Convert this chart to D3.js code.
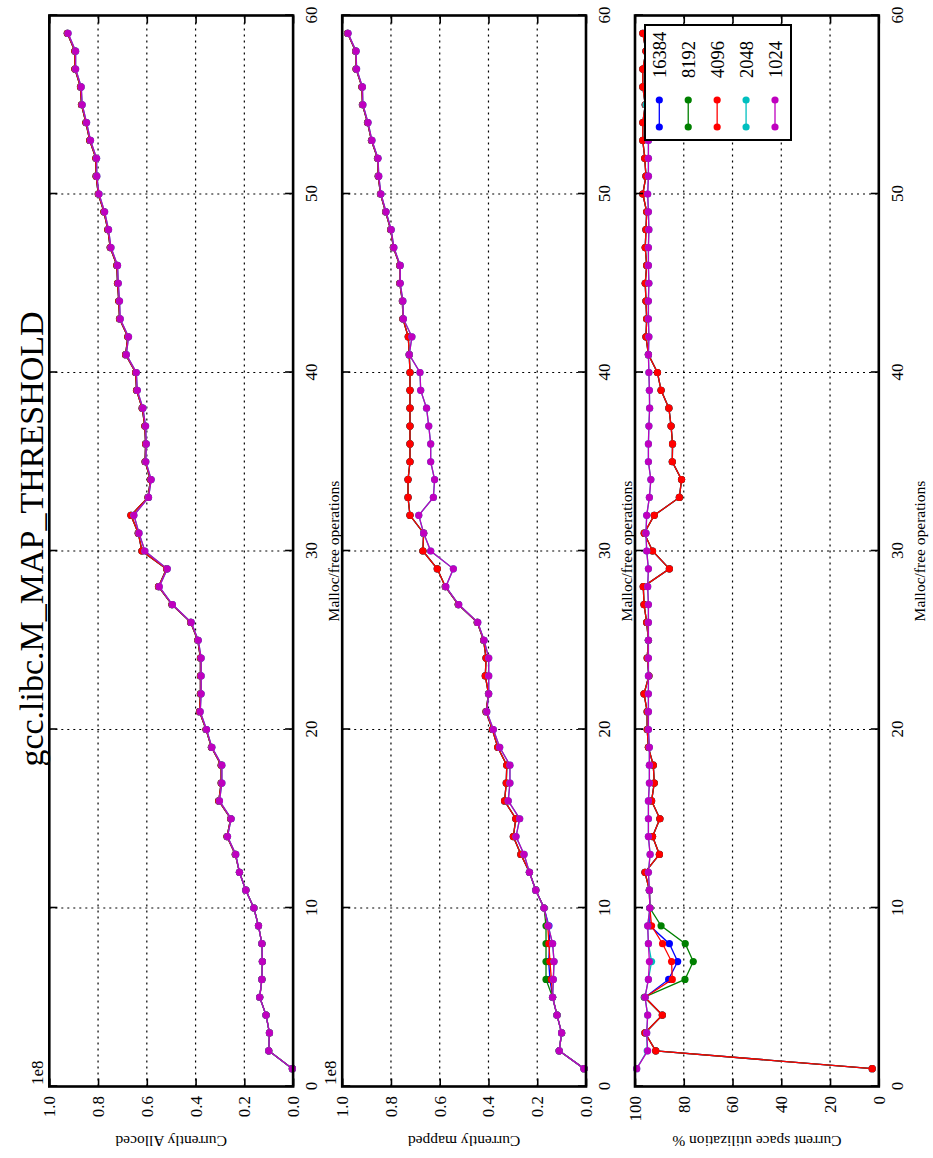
<!DOCTYPE html>
<html><head><meta charset="utf-8">
<script src="https://cdn.jsdelivr.net/npm/d3@7"></script>
<style>body{margin:0;background:#fff;} svg{display:block;}</style>
</head><body>
<svg id="c" width="933" height="1158"></svg>
<script>
// ---------- data ----------
const ops = [1,2,3,4,5,6,7,8,9,10,11,12,13,14,15,16,17,18,19,20,21,22,23,24,25,26,27,28,29,30,
             31,32,33,34,35,36,37,38,39,40,41,42,43,44,45,46,47,48,49,50,51,52,53,54,55,56,57,58,59];
const seriesNames = ["16384","8192","4096","2048","1024"];
const seriesColors = ["#0000ff","#008000","#ff0000","#00bfbf","#bf00bf"];
const xTicks = [0,10,20,30,40,50,60];
const allocTicks = [0.0,0.2,0.4,0.6,0.8,1.0];
const utilTicks = [0,20,40,60,80,100];

// Currently Alloced (1e8)
const alloced1024 = [0.003,0.100,0.097,0.111,0.137,0.128,0.126,0.128,0.142,0.161,
  0.194,0.220,0.235,0.269,0.254,0.302,0.292,0.292,0.333,0.355,
  0.381,0.377,0.377,0.377,0.389,0.418,0.495,0.549,0.516,0.608,
  0.632,0.653,0.593,0.582,0.604,0.602,0.605,0.616,0.639,0.643,
  0.684,0.675,0.709,0.712,0.717,0.720,0.747,0.757,0.773,0.796,
  0.805,0.806,0.831,0.847,0.865,0.869,0.892,0.892,0.923];
const alloced2048 = alloced1024;
const alloced4096 = [0.003,0.100,0.097,0.111,0.137,0.128,0.126,0.128,0.142,0.161,
  0.194,0.220,0.237,0.271,0.256,0.305,0.295,0.295,0.335,0.357,
  0.384,0.380,0.380,0.380,0.391,0.420,0.497,0.552,0.519,0.620,
  0.635,0.665,0.595,0.585,0.607,0.605,0.608,0.619,0.642,0.646,
  0.687,0.678,0.712,0.715,0.720,0.723,0.750,0.760,0.776,0.799,
  0.808,0.809,0.834,0.850,0.868,0.872,0.895,0.895,0.926];
const alloced8192 = alloced4096;
const alloced16384 = alloced4096;

// Currently mapped (1e8)
const mapped1024 = [0.008,0.110,0.100,0.119,0.137,0.134,0.131,0.137,0.155,0.172,
  0.206,0.232,0.254,0.287,0.272,0.319,0.312,0.312,0.354,0.380,
  0.407,0.399,0.399,0.399,0.418,0.444,0.522,0.575,0.544,0.637,
  0.666,0.686,0.626,0.621,0.637,0.637,0.645,0.654,0.678,0.681,
  0.725,0.714,0.749,0.751,0.762,0.762,0.788,0.799,0.820,0.841,
  0.850,0.853,0.878,0.894,0.915,0.917,0.941,0.943,0.976];
const mapped2048 = mapped1024;
const mapped4096 = [0.008,0.110,0.100,0.119,0.137,0.142,0.148,0.152,0.157,0.172,
  0.206,0.232,0.267,0.298,0.288,0.334,0.327,0.325,0.362,0.384,
  0.410,0.400,0.413,0.410,0.420,0.446,0.524,0.577,0.610,0.669,
  0.666,0.722,0.730,0.730,0.722,0.722,0.722,0.722,0.722,0.722,
  0.725,0.729,0.751,0.753,0.764,0.764,0.790,0.801,0.822,0.843,
  0.852,0.855,0.880,0.896,0.917,0.919,0.943,0.945,0.978];
const mapped8192 = [0.008,0.110,0.100,0.119,0.137,0.164,0.164,0.164,0.164,0.172,
  0.206,0.232,0.267,0.298,0.288,0.334,0.327,0.325,0.362,0.384,
  0.410,0.400,0.413,0.410,0.420,0.446,0.524,0.577,0.610,0.669,
  0.666,0.722,0.730,0.730,0.722,0.722,0.722,0.722,0.722,0.722,
  0.725,0.729,0.751,0.753,0.764,0.764,0.790,0.801,0.822,0.843,
  0.852,0.855,0.880,0.896,0.917,0.919,0.943,0.945,0.978];
const mapped16384 = [0.008,0.110,0.100,0.119,0.137,0.148,0.153,0.149,0.152,0.172,
  0.206,0.232,0.267,0.298,0.288,0.334,0.327,0.325,0.362,0.384,
  0.410,0.400,0.413,0.410,0.420,0.446,0.524,0.577,0.610,0.669,
  0.666,0.722,0.730,0.730,0.722,0.722,0.722,0.722,0.722,0.722,
  0.725,0.729,0.751,0.753,0.764,0.764,0.790,0.801,0.822,0.843,
  0.852,0.855,0.880,0.896,0.917,0.919,0.943,0.945,0.978];

// Current space utilization %
const util1024 = [99.3,94.8,95.2,94.8,95.9,94.5,94.1,94.5,94.8,93.9,
  94.1,94.5,93.8,94.5,94.5,94.5,94.1,94.1,94.1,94.5,
  94.5,94.5,94.5,94.5,94.5,94.5,94.5,94.8,94.5,95.2,
  95.5,95.2,94.1,93.5,94.5,94.5,94.3,94.0,94.1,94.3,
  94.5,94.3,94.5,94.5,94.3,94.5,94.5,94.3,94.5,94.8,
  94.5,94.5,94.5,94.3,94.5,94.5,94.5,94.3,94.5];
const util2048 = [99.3,95.0,95.2,94.8,95.9,94.5,93.2,94.5,94.8,93.9,
  94.1,94.5,93.8,94.5,94.5,94.5,94.1,94.1,94.1,94.5,
  94.5,94.5,94.5,94.5,94.5,94.5,94.5,94.8,94.5,95.2,
  95.5,95.2,94.1,93.5,94.5,94.5,94.3,94.0,94.1,94.3,
  94.5,94.3,94.5,94.5,94.3,94.5,94.5,94.3,94.5,94.8,
  94.5,94.5,94.5,94.3,95.5,94.5,94.5,94.3,94.5];
const util4096 = [2.7,91.5,95.9,88.8,95.9,84.7,85.0,88.7,93.2,93.9,
  94.1,95.9,90.0,92.8,89.8,93.2,92.1,92.5,94.5,95.0,
  95.0,96.3,94.3,95.0,94.5,95.2,96.3,96.6,85.9,92.8,
  96.2,92.1,81.8,80.9,84.7,84.6,85.2,86.1,89.3,90.8,
  94.5,95.5,95.2,95.5,95.8,95.2,95.8,95.5,95.2,96.8,
  95.5,96.0,96.8,96.8,95.8,96.8,96.8,95.5,96.8];
const util8192 = [2.7,91.5,95.9,88.8,96.2,79.5,76.1,79.4,89.3,93.9,
  94.1,95.9,90.0,92.8,89.8,93.2,92.1,92.5,94.5,95.0,
  95.0,96.3,94.3,95.0,94.5,95.2,96.3,96.6,85.9,92.8,
  96.2,92.1,81.8,80.9,84.7,84.6,85.2,86.1,89.3,90.8,
  94.5,95.5,95.2,95.5,95.8,95.2,95.8,95.5,95.2,96.8,
  95.5,96.0,96.8,96.8,95.8,96.8,96.8,95.5,96.8];
const util16384 = [2.7,91.5,95.9,88.8,95.9,86.2,82.5,85.9,93.9,93.9,
  94.1,95.9,90.0,92.8,89.8,93.2,92.1,92.5,94.5,95.0,
  95.0,96.3,94.3,95.0,94.5,95.2,96.3,96.6,85.9,92.8,
  96.2,92.1,81.8,80.9,84.7,84.6,85.2,86.1,89.3,90.8,
  94.5,95.5,95.2,95.5,95.8,95.2,95.8,95.5,95.2,96.8,
  95.5,96.0,96.8,96.8,95.8,96.8,96.8,95.5,96.8];

const panels = [
  {ylabel:"Currently Alloced", domain:[0,1], ticks:allocTicks, fmt:d3.format(".1f"), offset:"1e8",
   data:[alloced16384,alloced8192,alloced4096,alloced2048,alloced1024]},
  {ylabel:"Currently mapped", domain:[0,1], ticks:allocTicks, fmt:d3.format(".1f"), offset:"1e8",
   data:[mapped16384,mapped8192,mapped4096,mapped2048,mapped1024]},
  {ylabel:"Current space utilization %", domain:[0,100], ticks:utilTicks, fmt:d3.format("d"), offset:null,
   data:[util16384,util8192,util4096,util2048,util1024], legend:true}
];

// ---------- layout (drawn in landscape, rotated into portrait) ----------
const W0 = 1158;
const FONT = "'Liberation Serif', 'DejaVu Serif', serif";
const svg = d3.select("#c");
svg.append("rect").attr("width",933).attr("height",1158).attr("fill","#fff");
const root = svg.append("g").attr("transform", `translate(0,${W0}) rotate(-90)`);

const xLeft = 71.5, xRight = 1142.5;
const panelTops = [49.3, 342.2, 635];
const panelH = 243.8;
const x = d3.scaleLinear().domain([0,60]).range([xLeft, xRight]);

// title
root.append("text").attr("x", 619).attr("y", 43).attr("text-anchor","middle")
  .attr("font-family",FONT).attr("font-size",34).text("gcc.libc.M_MAP_THRESHOLD");

panels.forEach((p, i) => {
  const top = panelTops[i], bot = top + panelH;
  const y = d3.scaleLinear().domain(p.domain).range([bot, top]);
  const pg = root.append("g");

  // grid
  const grid = pg.append("g").attr("stroke","#000").attr("stroke-width",1.2).attr("stroke-dasharray","2,4");
  grid.selectAll(".gx").data(xTicks.slice(1,-1)).join("line")
    .attr("x1",d=>x(d)).attr("x2",d=>x(d)).attr("y1",top).attr("y2",bot);
  grid.selectAll(".gy").data(p.ticks.slice(1,-1)).join("line")
    .attr("x1",xLeft).attr("x2",xRight).attr("y1",d=>y(d)).attr("y2",d=>y(d));

  // series
  p.data.forEach((vals, s) => {
    const line = d3.line().x((d,j)=>x(ops[j])).y(d=>y(d));
    pg.append("path").attr("d", line(vals)).attr("fill","none")
      .attr("stroke", seriesColors[s]).attr("stroke-width",1.3);
    pg.append("g").selectAll("circle").data(vals).join("circle")
      .attr("cx",(d,j)=>x(ops[j])).attr("cy",d=>y(d)).attr("r",3.6)
      .attr("fill", seriesColors[s]);
  });

  // axes
  const styleAxis = (sel) => {
    sel.attr("font-family",FONT).attr("font-size",17);
    sel.select(".domain").remove();
    sel.selectAll(".tick line").attr("stroke-width",1.6);
  };
  pg.append("g").attr("transform",`translate(0,${bot})`)
    .call(d3.axisBottom(x).tickValues(xTicks).tickFormat(d3.format("d")).tickSizeInner(-8).tickSizeOuter(0).tickPadding(12))
    .call(styleAxis);
  pg.append("g").attr("transform",`translate(0,${top})`)
    .call(d3.axisTop(x).tickValues(xTicks).tickFormat("").tickSizeInner(-8).tickSizeOuter(0))
    .call(styleAxis);
  pg.append("g").attr("transform",`translate(${xLeft},0)`)
    .call(d3.axisLeft(y).tickValues(p.ticks).tickFormat(p.fmt).tickSizeInner(-8).tickSizeOuter(0).tickPadding(9.5))
    .call(styleAxis);
  pg.append("g").attr("transform",`translate(${xRight},0)`)
    .call(d3.axisRight(y).tickValues(p.ticks).tickFormat("").tickSizeInner(-8).tickSizeOuter(0))
    .call(styleAxis);

  // frame
  pg.append("rect").attr("x",xLeft).attr("y",top).attr("width",xRight-xLeft).attr("height",panelH)
    .attr("fill","none").attr("stroke","#000").attr("stroke-width",2.6);

  // labels
  pg.append("text").attr("x",(xLeft+xRight)/2).attr("y",bot+46).attr("text-anchor","middle")
    .attr("font-family",FONT).attr("font-size",15.5).text("Malloc/free operations");
  pg.append("text").attr("transform",`translate(22,${top+panelH/2}) rotate(-90)`).attr("text-anchor","middle")
    .attr("font-family",FONT).attr("font-size",15.5).text(p.ylabel);
  if (p.offset) {
    pg.append("text").attr("x",73).attr("y",top-6).attr("font-family",FONT).attr("font-size",17).text(p.offset);
  }

  // legend
  if (p.legend) {
    const lx0 = 1018, lx1 = 1133, ly0 = 645, ly1 = 791;
    const lg = pg.append("g");
    lg.append("rect").attr("x",lx0).attr("y",ly0).attr("width",lx1-lx0).attr("height",ly1-ly0)
      .attr("fill","#fff").attr("stroke","#000").attr("stroke-width",2);
    const rowY = d3.scalePoint().domain(seriesNames).range([659.3, 775]);
    seriesNames.forEach((name, s) => {
      const ry = rowY(name);
      lg.append("line").attr("x1",1031).attr("x2",1058).attr("y1",ry).attr("y2",ry)
        .attr("stroke",seriesColors[s]).attr("stroke-width",1.3);
      [1031,1058].forEach(cx => lg.append("circle").attr("cx",cx).attr("cy",ry).attr("r",3.6).attr("fill",seriesColors[s]));
      lg.append("text").attr("x",1080).attr("y",ry+6.5).attr("font-family",FONT).attr("font-size",18.5).text(name);
    });
  }
});
</script>
</body></html>
